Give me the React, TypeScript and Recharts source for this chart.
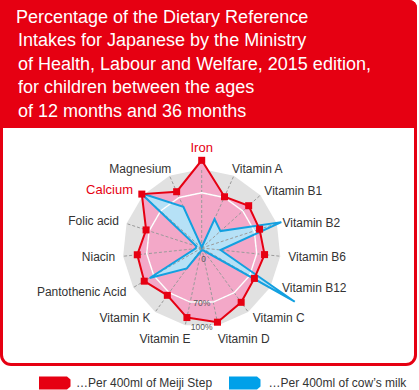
import { RadarChart, Radar, PolarGrid, PolarAngleAxis, PolarRadiusAxis } from 'recharts'

const RED = '#e60012'
const BLUE = '#13a0e0'
const FONT = '"Liberation Sans", Arial, Helvetica, sans-serif'

// axes, clockwise from the top
const nutrients = [
  'Iron', 'Vitamin A', 'Vitamin B1', 'Vitamin B2', 'Vitamin B6', 'Vitamin B12', 'Vitamin C',
  'Vitamin D', 'Vitamin E', 'Vitamin K', 'Pantothenic Acid', 'Niacin', 'Folic acid', 'Calcium', 'Magnesium',
]
// % of the dietary reference intake
const meijiStep = [111, 71, 80, 77, 80, 77, 85, 96, 90, 74, 84, 82, 74, 102, 78]
const cowsMilk = [1, 40, 32, 106, 24, 136, 4, 3, 4, 32, 76, 8, 7, 104, 57]
const radiusTicks = [0, 70, 100]
const ringTicks = [70]
const fullScale = 100

const titleLines = [
  'Percentage of the Dietary Reference',
  'Intakes for Japanese by the Ministry',
  'of Health, Labour and Welfare, 2015 edition,',
  'for children between the ages',
  'of 12 months and 36 months',
]

const data = nutrients.map((name, i) => ({
  name,
  meiji: meijiStep[i],
  milk: cowsMilk[i],
  full: fullScale,
}))

// small hand nudges so the labels sit like the original
const labelNudge: Record<string, [number, number]> = {
  Iron: [0, -9],
  'Vitamin A': [-5, 4],
  'Vitamin B1': [-2, 5],
  'Vitamin B2': [-2, 6],
  'Vitamin B12': [5, 0],
  'Vitamin D': [-2, 10],
  'Vitamin E': [7, 10],
  Calcium: [-4, 4],
  Magnesium: [5, 4],
}

// eslint-disable-next-line @typescript-eslint/no-explicit-any
function AngleTick({ x, y, textAnchor, payload }: any) {
  const name = payload.value as string
  const [dx, dy] = labelNudge[name] ?? [0, 4]
  const hot = name === 'Iron' || name === 'Calcium'
  return (
    <text
      x={x + dx}
      y={y + dy}
      textAnchor={textAnchor}
      fill={hot ? RED : '#333'}
      fontSize={hot ? 13 : 12}
      fontFamily={FONT}
    >
      {name}
    </text>
  )
}

// eslint-disable-next-line @typescript-eslint/no-explicit-any
function RadiusTick({ x, y, payload }: any) {
  const v = payload.value as number
  const label = v === 0 ? '0' : `${v}%`
  return (
    <text
      x={v === 0 ? x + 2 : x}
      y={v === 0 ? y + 14 : y + 3}
      textAnchor="middle"
      fill="#555"
      fontSize={8.5}
      fontFamily={FONT}
    >
      {label}
    </text>
  )
}

// eslint-disable-next-line @typescript-eslint/no-explicit-any
function SquareDot({ cx, cy, index }: any) {
  return <rect key={`sq-${index}`} x={cx - 3.5} y={cy - 3.5} width={7} height={7} fill={RED} />
}

function Swatch({ color }: { color: string }) {
  return (
    <svg width={32} height={14} style={{ display: 'block' }}>
      <path d="M0,0.5 H28 L31.5,3.5 V10.5 L28,13.5 H0 Z" fill={color} />
    </svg>
  )
}

export default function App() {
  return (
    <div style={{ position: 'absolute', left: 0, top: 0, width: 419, height: 390, fontFamily: FONT, background: '#fff' }}>
      <div
        style={{
          position: 'absolute', left: 0, top: 0, width: 417, height: 366, boxSizing: 'border-box',
          border: `3px solid ${RED}`, borderRadius: '0 8px 11px 11px', background: '#fff',
        }}
      />
      <div
        style={{
          position: 'absolute', left: 0, top: 0, width: 417, height: 128, background: RED,
          borderRadius: '0 8px 0 0',
        }}
      />
      <div style={{ position: 'absolute', left: 0, top: 5.6, color: '#fff', fontSize: 18, lineHeight: '23.5px' }}>
        {titleLines.map((t, i) => (
          <div key={t} style={{ paddingLeft: i === 0 ? 16 : 18, whiteSpace: 'nowrap' }}>{t}</div>
        ))}
      </div>

      <div style={{ position: 'absolute', left: 0, top: 0 }}>
        <RadarChart width={419} height={390} data={data} cx={201.7} cy={248} outerRadius={79}>
          <PolarAngleAxis dataKey="name" tick={<AngleTick />} tickLine={false} axisLine={false} />
          <PolarRadiusAxis
            angle={-90}
            domain={[0, 100]}
            allowDataOverflow
            ticks={radiusTicks}
            tick={<RadiusTick />}
            axisLine={false}
          />
          <PolarRadiusAxis
            radiusAxisId="ring"
            domain={[0, 100]}
            allowDataOverflow
            ticks={ringTicks}
            tick={false}
            axisLine={false}
          />
          <Radar dataKey="full" fill="#e1e1e1" fillOpacity={1} stroke="none" zIndex={10} isAnimationActive={false} />
          <Radar dataKey="meiji" fill="#f3a8c8" fillOpacity={1} stroke="none" zIndex={20} isAnimationActive={false} />
          <Radar dataKey="milk" fill="#b6e1f6" fillOpacity={1} stroke="none" zIndex={30} isAnimationActive={false} />
          <PolarGrid radiusAxisId="ring" stroke="#9a9a9a" strokeDasharray="3 2" zIndex={40} />
          <PolarGrid radiusAxisId="ring" radialLines={false} stroke="#fff" strokeWidth={1.5} zIndex={50} />
          <Radar
            dataKey="milk"
            fill="none"
            stroke={BLUE}
            strokeWidth={2}
            strokeLinejoin="miter"
            zIndex={60}
            isAnimationActive={false}
          />
          <Radar
            dataKey="meiji"
            fill="none"
            stroke={RED}
            strokeWidth={2}
            strokeLinejoin="miter"
            dot={<SquareDot />}
            zIndex={70}
            isAnimationActive={false}
          />
        </RadarChart>
      </div>

      <div style={{ position: 'absolute', left: 39, top: 375.5, display: 'flex', alignItems: 'center', fontSize: 12, color: '#333' }}>
        <Swatch color={RED} />
        <span style={{ marginLeft: 5 }}>…Per 400ml of Meiji Step</span>
      </div>
      <div style={{ position: 'absolute', left: 228.5, top: 375.5, display: 'flex', alignItems: 'center', fontSize: 12, color: '#333' }}>
        <Swatch color="#00a0e9" />
        <span style={{ marginLeft: 8 }}>…Per 400ml of cow’s milk</span>
      </div>
    </div>
  )
}
